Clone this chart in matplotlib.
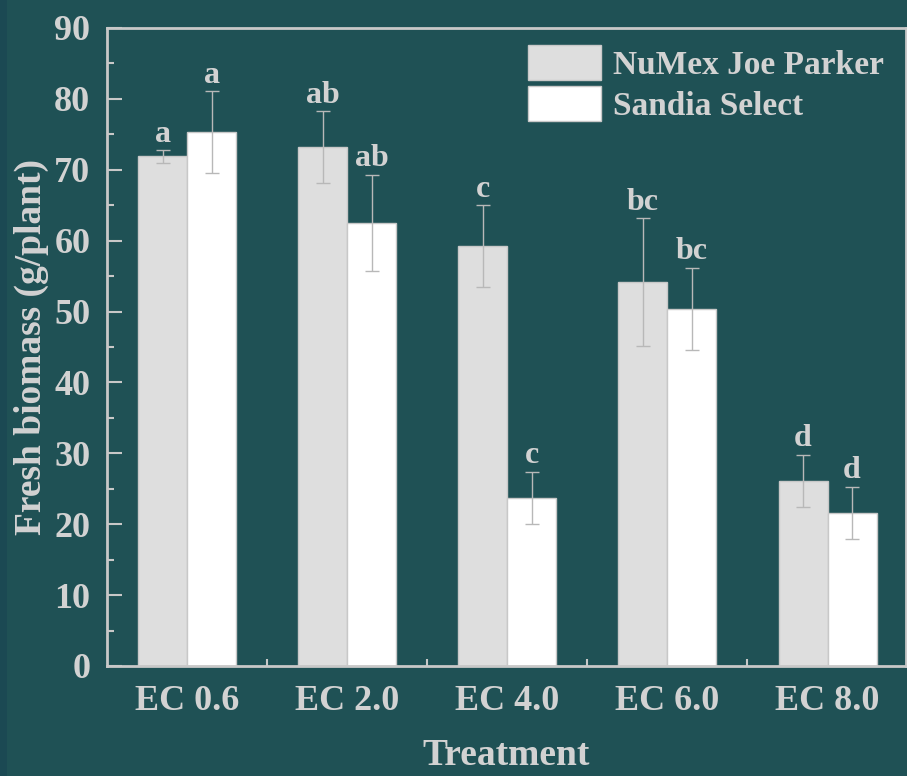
import matplotlib.pyplot as plt
from matplotlib.patches import Rectangle
from matplotlib.ticker import MultipleLocator, FixedLocator
import numpy as np

# -------------------------
# Data
# -------------------------
treatments = ["EC 0.6", "EC 2.0", "EC 4.0", "EC 6.0", "EC 8.0"]

numex_mean = [71.9, 73.2, 59.2, 54.2, 26.1]
numex_err = [0.9, 5.1, 5.8, 9.0, 3.7]
numex_letters = ["a", "ab", "c", "bc", "d"]

sandia_mean = [75.3, 62.5, 23.7, 50.4, 21.6]
sandia_err = [5.8, 6.8, 3.7, 5.8, 3.7]
sandia_letters = ["a", "ab", "c", "bc", "d"]

# -------------------------
# Style
# -------------------------
BG = "#1f5155"
TXT = "#d2d2d2"
SPINE = "#c8c8c8"
FONT = "Liberation Serif"

plt.rcParams["font.family"] = FONT
plt.rcParams["font.weight"] = "bold"

fig = plt.figure(figsize=(9.07, 7.76), dpi=100, facecolor=BG)
fig.patches.append(Rectangle((0, 0), 7 / 907, 1, transform=fig.transFigure,
                             facecolor="#1b4953", edgecolor="none", zorder=0))
ax = fig.add_axes([107 / 907, 1 - 666 / 776, 799 / 907, 638 / 776])
ax.set_facecolor(BG)

x = np.arange(len(treatments))
w = 0.306

ekw = dict(ecolor="#b8b8b8", elinewidth=1.0, capsize=5, capthick=1.0)
ax.bar(x - w / 2, numex_mean, w, yerr=numex_err, color="#dedede",
       edgecolor="#c8c8c8", linewidth=1, label="NuMex Joe Parker",
       error_kw=ekw, zorder=2)
ax.bar(x + w / 2, sandia_mean, w, yerr=sandia_err, color="#ffffff",
       edgecolor="#c8c8c8", linewidth=1, label="Sandia Select",
       error_kw=ekw, zorder=2)

for i in range(len(treatments)):
    ax.annotate(numex_letters[i], (x[i] - w / 2, numex_mean[i] + numex_err[i]),
                xytext=(0, 1), textcoords="offset points", ha="center",
                va="bottom", fontsize=23, color=TXT, fontweight="bold")
    ax.annotate(sandia_letters[i], (x[i] + w / 2, sandia_mean[i] + sandia_err[i]),
                xytext=(0, 1), textcoords="offset points", ha="center",
                va="bottom", fontsize=23, color=TXT, fontweight="bold")

ax.set_xlim(-0.5, 4.49)
ax.set_ylim(0, 90)
ax.set_xticks(x)
ax.set_xticklabels(treatments)
ax.xaxis.set_minor_locator(FixedLocator(x[:-1] + 0.5))
ax.yaxis.set_major_locator(MultipleLocator(10))
ax.yaxis.set_minor_locator(MultipleLocator(5))

ax.tick_params(axis="both", which="both", direction="in", colors=SPINE,
               labelcolor=TXT, labelsize=26, width=1.5)
ax.tick_params(axis="y", which="major", length=11, pad=12)
ax.tick_params(axis="y", which="minor", length=5)
ax.tick_params(axis="x", which="major", length=0, pad=14)
ax.tick_params(axis="x", which="minor", length=5)
for lab in ax.get_xticklabels() + ax.get_yticklabels():
    lab.set_fontweight("bold")

for s in ax.spines.values():
    s.set_color(SPINE)
    s.set_linewidth(2)

ax.set_xlabel("Treatment", fontsize=27, color=TXT, fontweight="bold", labelpad=14)
ax.set_ylabel("Fresh biomass (g/plant)", fontsize=27, color=TXT,
              fontweight="bold", labelpad=4)

leg = ax.legend(loc="upper right", bbox_to_anchor=(1.01, 1.02), frameon=False,
                fontsize=24, handlelength=2.2, handleheight=1.25,
                handletextpad=0.35, labelspacing=0.15)
for t in leg.get_texts():
    t.set_color(TXT)
    t.set_fontweight("bold")

fig.savefig("out.png", dpi=100, facecolor=BG)
